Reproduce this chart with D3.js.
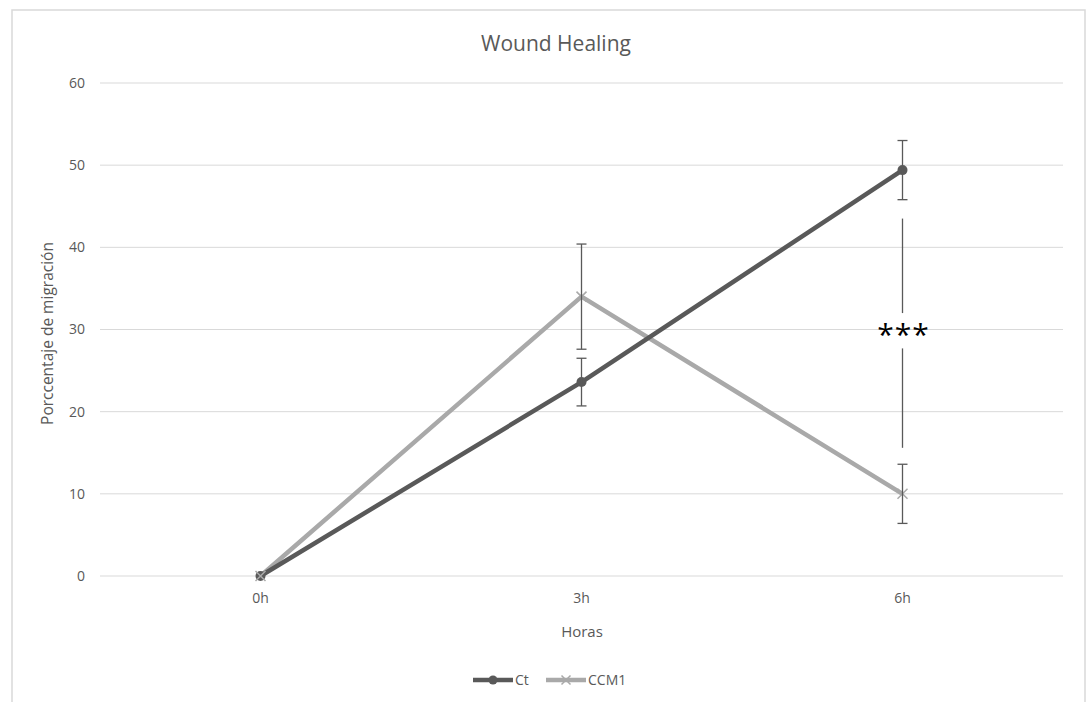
<!DOCTYPE html>
<html>
<head>
<meta charset="utf-8">
<script src="https://cdn.jsdelivr.net/npm/d3@7"></script>
<style>
  body { margin: 0; background: #fff; }
  svg { display: block; font-family: "Open Sans", "Noto Sans", sans-serif; }
</style>
</head>
<body>
<svg id="chart" width="1087" height="702"></svg>
<script>
const categories = ['0h', '3h', '6h'];
const ctValues = [0, 23.6, 49.4];
const ctErrors = [0, 2.9, 3.6];
const ccm1Values = [0, 34.0, 10.0];
const ccm1Errors = [0, 6.4, 3.6];
const yTicks = [0, 10, 20, 30, 40, 50, 60];
// significance bracket at 6h
const sigRange = [15.6, 43.5];
const sigLabel = '***';

const margin = {top: 83, bottom: 126, left: 100, right: 24};
const width = 1087, height = 702;

const svg = d3.select('#chart');

// frame
svg.append('path')
  .attr('d', `M12,${height + 2} V10 H1085 V${height + 2}`)
  .attr('fill', 'none')
  .attr('stroke', '#d9d9d9')
  .attr('stroke-width', 1.5);

const x = d3.scaleBand()
  .domain(categories)
  .range([margin.left, width - margin.right]);

const y = d3.scaleLinear()
  .domain([0, 60])
  .range([height - margin.bottom, margin.top]);

const cx = d => x(d) + x.bandwidth() / 2;

// gridlines
svg.append('g')
  .selectAll('line')
  .data(yTicks)
  .join('line')
  .attr('x1', margin.left)
  .attr('x2', width - margin.right)
  .attr('y1', d => y(d))
  .attr('y2', d => y(d))
  .attr('stroke', '#d9d9d9')
  .attr('stroke-width', 1);

// y labels
svg.append('g')
  .selectAll('text')
  .data(yTicks)
  .join('text')
  .attr('x', 85)
  .attr('y', d => y(d))
  .attr('dy', '0.35em')
  .attr('text-anchor', 'end')
  .attr('font-size', 14)
  .attr('fill', '#595959')
  .text(d => d);

// x labels
svg.append('g')
  .selectAll('text')
  .data(categories)
  .join('text')
  .attr('x', d => cx(d))
  .attr('y', y(0) + 27)
  .attr('text-anchor', 'middle')
  .attr('font-size', 14)
  .attr('fill', '#595959')
  .text(d => d);

// title and axis titles
svg.append('text')
  .attr('x', 556).attr('y', 51)
  .attr('text-anchor', 'middle')
  .attr('font-size', 21)
  .attr('fill', '#595959')
  .text('Wound Healing');

svg.append('text')
  .attr('x', 582).attr('y', 637)
  .attr('text-anchor', 'middle')
  .attr('font-size', 15)
  .attr('fill', '#595959')
  .text('Horas');

svg.append('text')
  .attr('transform', `translate(53,${y(30) + 4}) rotate(-90)`)
  .attr('text-anchor', 'middle')
  .attr('font-size', 15.5)
  .attr('fill', '#595959')
  .text('Porccentaje de migración');

const series = [
  {name: 'Ct', values: ctValues, errors: ctErrors, color: '#595959', marker: 'circle'},
  {name: 'CCM1', values: ccm1Values, errors: ccm1Errors, color: '#a9a9a9', marker: 'x'}
];

const line = d3.line()
  .x((d, i) => cx(categories[i]))
  .y(d => y(d));

// lines
series.slice().reverse().forEach(s => {
  svg.append('path')
    .datum(s.values)
    .attr('d', line)
    .attr('fill', 'none')
    .attr('stroke', s.color)
    .attr('stroke-width', 4.5)
    .attr('stroke-linejoin', 'round');
});

function drawMarker(g, s, px, py, r) {
  if (s.marker === 'circle') {
    g.append('circle').attr('cx', px).attr('cy', py).attr('r', r)
      .attr('fill', s.color);
  } else {
    g.append('path')
      .attr('d', `M${px - r},${py - r}L${px + r},${py + r}M${px - r},${py + r}L${px + r},${py - r}`)
      .attr('stroke', s.color).attr('stroke-width', 1.5);
  }
}

// markers
series.forEach(s => {
  const g = svg.append('g');
  s.values.forEach((v, i) => drawMarker(g, s, cx(categories[i]), y(v), 5));
});

// error bars
const eg = svg.append('g').attr('stroke', '#595959').attr('stroke-width', 1.3);
series.forEach(s => {
  s.values.forEach((v, i) => {
    const e = s.errors[i];
    if (!e) return;
    const px = cx(categories[i]);
    eg.append('line').attr('x1', px).attr('x2', px).attr('y1', y(v + e)).attr('y2', y(v - e));
    [v + e, v - e].forEach(t => {
      eg.append('line').attr('x1', px - 5).attr('x2', px + 5).attr('y1', y(t)).attr('y2', y(t));
    });
  });
});

// significance
const sx = cx('6h');
svg.append('line')
  .attr('x1', sx).attr('x2', sx)
  .attr('y1', y(sigRange[1])).attr('y2', y(32))
  .attr('stroke', '#595959').attr('stroke-width', 1.3);
svg.append('line')
  .attr('x1', sx).attr('x2', sx)
  .attr('y1', y(27.7)).attr('y2', y(sigRange[0]))
  .attr('stroke', '#595959').attr('stroke-width', 1.3);
svg.append('text')
  .attr('x', sx + 1).attr('y', y(30) + 15)
  .attr('text-anchor', 'middle')
  .attr('font-size', 30)
  .attr('letter-spacing', 1)
  .attr('fill', '#000')
  .text(sigLabel);

// legend
const legend = svg.append('g');
const lx = [473, 546];
series.forEach((s, i) => {
  const gx = lx[i], gy = 680;
  legend.append('line').attr('x1', gx).attr('x2', gx + 40).attr('y1', gy).attr('y2', gy)
    .attr('stroke', s.color).attr('stroke-width', 4.5);
  drawMarker(legend, s, gx + 20, gy, 4.5);
  legend.append('text').attr('x', gx + 42).attr('y', gy).attr('dy', '0.35em')
    .attr('font-size', 14).attr('fill', '#595959').text(s.name);
});
</script>
</body>
</html>
